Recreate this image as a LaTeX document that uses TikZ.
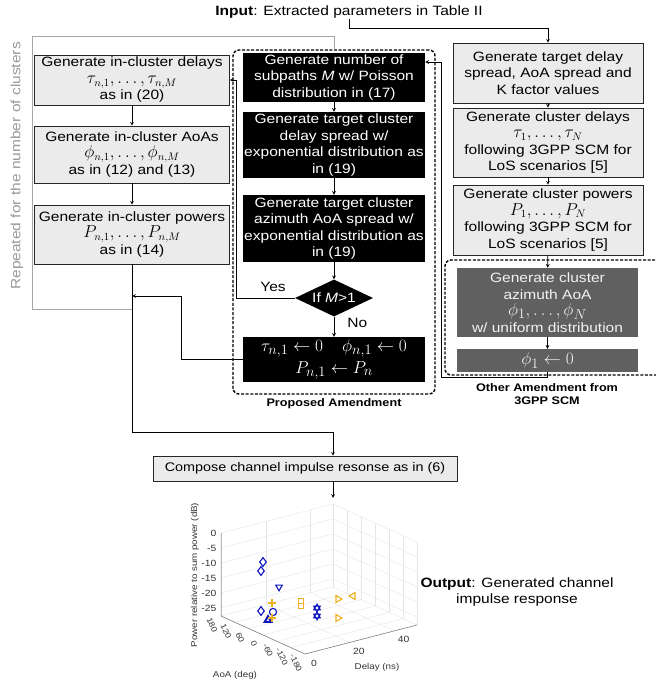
\documentclass[tikz,border=0pt]{standalone}
\usepackage{fontspec}
\setmainfont{Liberation Sans}[FakeStretch=1.15]
\usepackage{tikz}
\usetikzlibrary{shapes.geometric, positioning, arrows.meta, plotmarks}

\definecolor{boxgray}{RGB}{235,235,235}
\definecolor{darkbox}{RGB}{96,96,96}
\definecolor{matblue}{RGB}{12,20,190}
\definecolor{matyellow}{RGB}{237,177,32}

\newcommand{\boxfont}{\fontsize{13.5}{16.5}\selectfont}
\newcommand{\mathline}[1]{{\fontsize{16}{16}\selectfont$#1$}}
\newcommand{\bigmathline}[1]{{\fontsize{19}{19}\selectfont$#1$}}

\tikzstyle{arrow} = [line width=0.7pt,->,>=stealth]

\tikzset{
    lightstep/.style={
        rectangle, minimum width=190pt, text centered, align=center, draw=black!85, line width=0.6pt, fill=boxgray, inner sep=1pt, font=\boxfont
    },
    blackstep/.style={
        rectangle, minimum width=182pt, text centered, align=center, fill=black, text=white, inner sep=1pt, font=\boxfont
    },
    darkstep/.style={
        rectangle, minimum width=181pt, text centered, align=center, fill=darkbox, text=black!5, inner sep=1pt, font=\boxfont
    },
    decision/.style={
        diamond, aspect=2.1, minimum width=78pt, minimum height=37pt, inner sep=0pt, fill=black, text=white, font=\boxfont
    },
    amendment/.style={
        draw=black, line width=1.4pt, dash pattern=on 3pt off 1.6pt, rounded corners=6pt
    },
}

\begin{document}
\begin{tikzpicture}[x=1pt, y=-1pt]

    % Define styles
    \tikzstyle{flowtext} = [font=\boxfont, inner sep=1pt]
    \tikzstyle{framelabel} = [font=\fontsize{11}{13}\selectfont\bfseries, align=center, inner sep=1pt]
    \tikzstyle{gridline} = [black!10, line width=0.4pt]
    \tikzstyle{axisline} = [black!55, line width=0.5pt]
    \tikzstyle{ticklabel} = [font=\fontsize{9}{10}\selectfont, text=black!80, inner sep=0.5pt]
    \tikzstyle{bluemark} = [matblue, line width=1.1pt]
    \tikzstyle{yellowmark} = [matyellow, line width=1.1pt]

    \useasboundingbox (0,0) rectangle (655,684);

    % Input
    \node[flowtext] (input) at (349,12) {\textbf{Input}: Extracted parameters in Table II};

    % Amendment frames
    \node[amendment, minimum width=202pt, minimum height=344pt] (proposed) at (334,222) {};
    \node[framelabel, below=3pt of proposed] (proposedlabel) {Proposed Amendment};
    \node[amendment, minimum width=230pt, minimum height=115pt] (other) at (560,317.5) {};
    \node[framelabel] (otherlabel) at (547,394) {Other Amendment from\\3GPP SCM};

    % In-cluster steps
    \node[lightstep, minimum width=195pt, minimum height=50pt] (delays) at (132,80) {Generate in-cluster delays\\ \mathline{\tau_{n,1},\ldots,\tau_{n,M}}\\ as in (20)};
    \node[lightstep, minimum width=195pt, minimum height=57pt] (aoas) at (132,154.5) {Generate in-cluster AoAs\\ \mathline{\phi_{n,1},\ldots,\phi_{n,M}}\\ as in (12) and (13)};
    \node[lightstep, minimum width=195pt, minimum height=59pt] (powers) at (132,234.5) {Generate in-cluster powers\\ \mathline{P_{n,1},\ldots,P_{n,M}}\\ as in (14)};
    \node[flowtext, rotate=90, text=black!40] (repeated) at (17,166) {Repeated for the number of clusters};

    % Proposed amendment steps
    \node[blackstep, minimum height=49pt] (subpaths) at (334,77.5) {Generate number of\\subpaths \textit{M} w/ Poisson\\distribution in (17)};
    \node[blackstep, minimum height=66pt] (delayspread) at (334,145) {Generate target cluster\\delay spread w/\\exponential distribution as\\in (19)};
    \node[blackstep, minimum height=67pt] (aoaspread) at (334,228.5) {Generate target cluster\\azimuth AoA spread w/\\exponential distribution as\\in (19)};
    \node[decision] (cond) at (334,298) {If \textit{M}>1};
    \node[blackstep, minimum height=45pt] (single) at (334,359.5) {\bigmathline{\tau_{n,1}\leftarrow 0\quad\phi_{n,1}\leftarrow 0}\\[3pt] \bigmathline{P_{n,1}\leftarrow P_n}};

    % 3GPP SCM steps
    \node[lightstep, minimum height=60pt] (target) at (548,73) {Generate target delay\\spread, AoA spread and\\K factor values};
    \node[lightstep, minimum height=69pt] (clusterdelays) at (548,142.5) {Generate cluster delays\\ \mathline{\tau_1,\ldots,\tau_N}\\ following 3GPP SCM for\\LoS scenarios [5]};
    \node[lightstep, minimum height=70pt] (clusterpowers) at (548,220) {Generate cluster powers\\ \mathline{P_1,\ldots,P_N}\\ following 3GPP SCM for\\LoS scenarios [5]};
    \node[darkstep, minimum height=69pt] (clusteraoa) at (547.5,302.5) {Generate cluster\\azimuth AoA\\ \bigmathline{\phi_1,\ldots,\phi_N}\\ w/ uniform distribution};
    \node[darkstep, minimum height=23pt] (reset) at (547.5,360.5) {\bigmathline{\phi_1\leftarrow 0}};

    % Compose and output
    \node[lightstep, minimum width=304pt, minimum height=25pt, font=\fontsize{12.5}{14}\selectfont] (compose) at (305,468.5) {Compose channel impulse resonse as in (6)};
    \node[flowtext, align=center] (output) at (517,592) {\textbf{Output}: Generated channel\\impulse response};

    % Flows on the right
    \draw[arrow] (input.south) -- ++(0,9) -| (target.north);
    \draw[arrow] (target) -- (clusterdelays);
    \draw[arrow] (clusterdelays) -- (clusterpowers);
    \draw[arrow] (clusterpowers) -- (clusteraoa);
    \draw[arrow] (clusteraoa) -- (reset);
    \coordinate (loopback) at (441,62);
    \draw[arrow] (reset.south) -- ++(0,5) -| (loopback) -- (loopback -| subpaths.east);

    % Flows in the middle
    \draw[arrow] (subpaths) -- (delayspread);
    \draw[arrow] (delayspread) -- (aoaspread);
    \draw[arrow] (aoaspread) -- (cond);
    \draw[arrow] (cond) -- node[flowtext, right=12pt, pos=0.3] {No} (single);
    \draw[arrow] (cond.west) -- ++(-58,0) |- (delays.east);
    \node[flowtext] (yes) at (273,287) {Yes};

    % Flows on the left
    \draw[arrow] (delays) -- (aoas);
    \draw[arrow] (aoas) -- (powers);
    \coordinate (merge) at (132,296);
    \draw[arrow] (single.west) -- ++(-61,0) |- (merge);
    \coordinate (plottop) at (333,498);
    \draw[arrow] (powers.south) -- ++(0,168) -| (compose.north -| plottop);
    \draw[arrow] (compose.south -| plottop) -- (plottop);

    % Repetition frame
    \draw[black!35, line width=0.8pt] (powers.south |- 0,309) -- (32,309) -- (32,36) -| (proposed.north);

    % Impulse response plot
    \begin{scope}[shift={(221,616)}, x={(0.23333pt,-0.10556pt)}, y={(2.24pt,0.58pt)}, z={(0pt,3pt)}]
        \foreach \u in {0,60,...,360}
            \draw[gridline] (\u,0,0) -- (\u,50,0);
        \foreach \d in {0,20,40,50}
            \draw[gridline] (0,\d,0) -- (360,\d,0);
        \foreach \d in {0,20,40,50}
            \draw[gridline] (0,\d,0) -- (0,\d,27.67);
        \foreach \u in {0,60,...,360}
            \draw[gridline] (\u,50,0) -- (\u,50,27.67);
        \foreach \k in {0,5,...,25}
            \draw[gridline] (0,0,{27.67-\k}) -- (0,50,{27.67-\k}) -- (360,50,{27.67-\k});
        \draw[axisline] (0,0,27.67) -- (0,0,0) -- (360,0,0) -- (360,50,0);
    \end{scope}
    \foreach \k in {0,-5,...,-25}
        \node[ticklabel, anchor=east] at (217,{533-3*\k}) {\k};
    \foreach \a [count=\i from 0] in {180,120,60,0,-60,-120,-180}
        \node[ticklabel, font=\fontsize{8}{9}\selectfont, inner sep=0pt, rotate=-65] at ({212+14*\i},{625+6.33*\i}) {\a};
    \foreach \d in {0,20,40}
        \node[ticklabel] at ({314+2.24*\d},{663-0.58*\d}) {\d};
    \node[ticklabel, font=\fontsize{8.5}{10}\selectfont] (aoalabel) at (235,675) {AoA (deg)};
    \node[ticklabel, font=\fontsize{8.5}{10}\selectfont] (delaylabel) at (377,667) {Delay (ns)};
    \node[ticklabel, font=\fontsize{8.5}{10}\selectfont, rotate=90] (powerlabel) at (195,575) {Power relative to sum power (dB)};

    % Markers
    \draw[bluemark] plot[only marks, mark=diamond, mark size=4.4pt] coordinates {(263,562) (261,571) (261,611)};
    \draw[bluemark] plot[only marks, mark=triangle, mark size=3.8pt, mark options={rotate=180}] coordinates {(279,587) (317,608) (317,616)};
    \draw[bluemark] plot[only marks, mark=triangle, mark size=3.8pt] coordinates {(317,608) (317,616)};
    \draw[bluemark] plot[only marks, mark=o, mark size=3.6pt] coordinates {(273,612)};
    \draw[bluemark, line width=2pt] plot[only marks, mark=triangle, mark size=3.8pt] coordinates {(268,620)};
    \draw[yellowmark] plot[only marks, mark=+, mark size=4pt] coordinates {(272,603) (272,618)};
    \draw[yellowmark] plot[only marks, mark=square, mark size=2.8pt] coordinates {(301,601) (301,606)};
    \draw[yellowmark] plot[only marks, mark=triangle, mark size=4pt, mark options={rotate=-90}] coordinates {(338,599) (338,618)};
    \draw[yellowmark] plot[only marks, mark=triangle, mark size=4pt, mark options={rotate=90}] coordinates {(353,596)};

\end{tikzpicture}
\end{document}
